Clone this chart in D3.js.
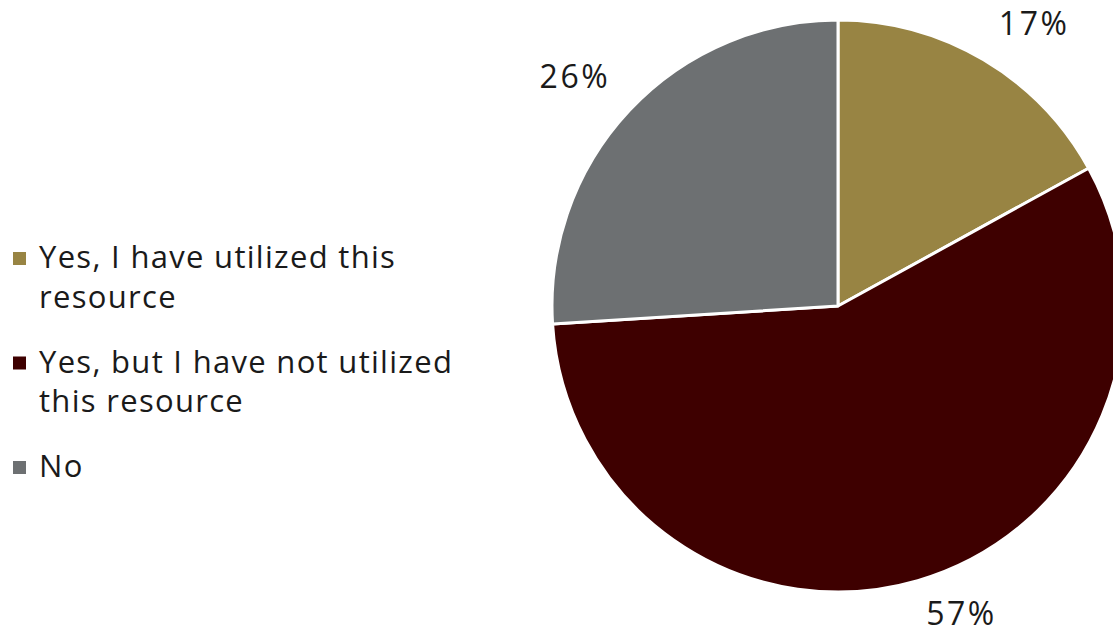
<!DOCTYPE html>
<html>
<head>
<meta charset="utf-8">
<script src="https://cdn.jsdelivr.net/npm/d3@7"></script>
<style>
  html, body { margin: 0; padding: 0; background: #fff; }
  svg { display: block; }
  text { font-family: "Open Sans", "Liberation Sans", sans-serif; fill: #1a1a1a; }
</style>
</head>
<body>
<svg id="chart" width="1113" height="635"></svg>
<script>
const categories = [
  ["Yes, I have utilized this", "resource"],
  ["Yes, but I have not utilized", "this resource"],
  ["No"]
];
const values = [17, 57, 26];
const colors = ["#988443", "#3e0000", "#6d7072"];

const svg = d3.select("#chart");
const cx = 838, cy = 306, r = 286;

const pie = d3.pie().sort(null).value(d => d)(values);
const arc = d3.arc().innerRadius(0).outerRadius(r);

const g = svg.append("g").attr("transform", `translate(${cx},${cy})`);
g.selectAll("path.slice").data(pie).join("path")
  .attr("class", "slice")
  .attr("d", arc)
  .attr("fill", (d, i) => colors[i])
  .attr("stroke", "#fff")
  .attr("stroke-width", 3)
  .attr("stroke-linejoin", "round");

// data labels outside end, kept inside the frame
const labelR = 316, capH = 20, fs = 32;
g.selectAll("text.lbl").data(pie).join("text")
  .attr("class", "lbl")
  .style("font-size", fs + "px")
  .style("letter-spacing", "2.5px")
  .each(function(d) {
    const a = (d.startAngle + d.endAngle) / 2;
    const px = Math.sin(a) * labelR, py = -Math.cos(a) * labelR;
    const right = Math.sin(a) >= 0;
    let by = Math.cos(a) > 0 ? py - 2 : py + capH;
    // clamp baseline so the font box stays in the SVG
    by = Math.max(by, -cy + fs * 1.1);
    by = Math.min(by, 635 - cy - fs * 0.3);
    d3.select(this)
      .attr("x", right ? px : px + 2.5)
      .attr("y", by)
      .attr("text-anchor", right ? "start" : "end")
      .text(d.data + "%");
  });

// legend
const legend = svg.append("g");
const lineH = 39.5, itemGap = 25.5;
let y = 268;
categories.forEach((lines, i) => {
  legend.append("rect")
    .attr("x", 13).attr("y", y - 16).attr("width", 13).attr("height", 13)
    .attr("fill", colors[i]);
  const t = legend.append("text").attr("x", 39).attr("y", y)
    .style("font-size", "31px").style("letter-spacing", "1.3px");
  lines.forEach((ln, j) => {
    t.append("tspan").attr("x", 39).attr("y", y + j * lineH).text(ln);
  });
  y += lines.length * lineH + itemGap;
});
</script>
</body>
</html>
